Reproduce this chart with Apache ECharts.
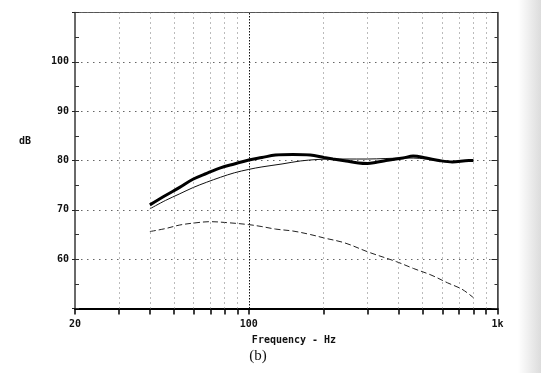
<!DOCTYPE html>
<html>
<head>
<meta charset="utf-8">
<script src="https://cdn.jsdelivr.net/npm/echarts@6/dist/echarts.min.js"></script>
<style>html,body{margin:0;padding:0;background:#fff;}#c{width:541px;height:373px;}</style>
</head>
<body>
<div id="c"></div>
<script>
// ---- data ----
var thickFreq = [40, 46.2, 52.5, 59.6, 67.7, 76.9, 87.4, 100, 112.9, 128, 150.5, 176.6, 200.6, 218, 246, 276, 300, 323, 356, 417, 458, 517, 582, 658, 767, 800];
var thickDb   = [71.0, 72.9, 74.5, 76.2, 77.4, 78.5, 79.3, 80.1, 80.6, 81.1, 81.2, 81.1, 80.6, 80.3, 79.9, 79.5, 79.4, 79.6, 80.0, 80.5, 80.9, 80.5, 80.0, 79.7, 80.0, 80.0];
var thinFreq  = [40, 46.2, 52.5, 59.6, 67.7, 76.9, 87.4, 100, 112.9, 136, 161, 188, 218, 246, 300, 356, 417, 458, 517, 582, 658, 767, 800];
var thinDb    = [70.2, 71.9, 73.2, 74.5, 75.6, 76.6, 77.5, 78.2, 78.7, 79.3, 79.9, 80.2, 80.3, 80.3, 80.3, 80.4, 80.5, 80.5, 80.3, 79.9, 79.8, 80.0, 80.0];
var dashFreq  = [40, 46.2, 52.5, 59.6, 70, 82, 100, 112.9, 128, 150.5, 176.6, 200.6, 243, 304, 392, 460, 540, 630, 720, 800];
var dashDb    = [65.6, 66.2, 66.9, 67.3, 67.6, 67.4, 67.0, 66.6, 66.1, 65.7, 65.0, 64.3, 63.3, 61.4, 59.5, 58.1, 56.8, 55.2, 53.9, 52.2];
var gridFreqs = [30, 40, 50, 60, 70, 80, 90, 200, 300, 400, 500, 600, 700, 800, 900];
var tickFreqs = [20, 30, 40, 50, 60, 70, 80, 90, 100, 200, 300, 400, 500, 600, 700, 800, 900, 1000];
var xLabelVals = [20, 100, 1000];
var yLabelVals = [60, 70, 80, 90, 100];

function pairs(f, v) { return f.map(function (x, i) { return [x, v[i]]; }); }

var labelFont = { fontFamily: 'DejaVu Sans Mono', fontWeight: 'bold', fontSize: 10, color: '#111' };

var chart = echarts.init(document.getElementById('c'), null, { renderer: 'canvas' });
chart.setOption({
  backgroundColor: '#fff',
  animation: false,
  grid: { left: 75, right: 43.5, top: 12.5, bottom: 64.5, show: true, borderColor: '#555', borderWidth: 1, backgroundColor: 'transparent' },
  xAxis: [{
    type: 'log', logBase: 10, min: 20, max: 1000,
    axisLine: { show: true, onZero: false, lineStyle: { color: '#000', width: 2 } },
    axisTick: { show: true, inside: false, length: 6, customValues: tickFreqs, lineStyle: { color: '#000', width: 1.5 } },
    axisLabel: Object.assign({ margin: 11, customValues: xLabelVals, formatter: function (v) { return v >= 1000 ? '1k' : String(Math.round(v)); } }, labelFont),
    splitLine: { show: false },
    minorTick: { show: false }
  }],
  yAxis: [{
    type: 'value', min: 50, max: 110, interval: 10, position: 'left',
    axisLine: { show: true, lineStyle: { color: '#555', width: 1.5 } },
    axisTick: { show: true, inside: false, length: 3, lineStyle: { color: '#222' } },
    axisLabel: Object.assign({ margin: 6, formatter: function (v) { return yLabelVals.indexOf(v) >= 0 ? String(v) : ''; } }, labelFont),
    splitLine: { show: true, lineStyle: { color: '#666', width: 1, type: [1.5, 4.5] } }
  }, {
    type: 'value', min: 50, max: 110, interval: 5, position: 'left',
    axisLine: { show: false }, axisLabel: { show: false }, splitLine: { show: false },
    axisTick: { show: true, inside: true, length: 4, lineStyle: { color: '#333' } }
  }, {
    type: 'value', min: 50, max: 110, interval: 10, position: 'right',
    axisLine: { show: true, lineStyle: { color: '#444', width: 1.5 } }, axisLabel: { show: false }, splitLine: { show: false },
    axisTick: { show: true, inside: true, length: 6, lineStyle: { color: '#222' } }
  }, {
    type: 'value', min: 50, max: 110, interval: 5, position: 'right',
    axisLine: { show: false }, axisLabel: { show: false }, splitLine: { show: false },
    axisTick: { show: true, inside: true, length: 3, lineStyle: { color: '#333' } }
  }],
  series: [{
    type: 'line', data: [], silent: true,
    markLine: {
      silent: true, symbol: 'none', label: { show: false },
      lineStyle: { color: '#777', width: 1, type: [1, 4] },
      data: gridFreqs.map(function (f) { return { xAxis: f }; }).concat([{ xAxis: 100, lineStyle: { color: '#111', width: 1, type: [1.5, 1.5] } }])
    }
  }, {
    name: 'thick', type: 'line', data: pairs(thickFreq, thickDb), smooth: 0.35, showSymbol: false,
    lineStyle: { color: '#000', width: 3 }, z: 5
  }, {
    name: 'thin', type: 'line', data: pairs(thinFreq, thinDb), smooth: 0.35, showSymbol: false,
    lineStyle: { color: '#111', width: 1 }, z: 4
  }, {
    name: 'dash', type: 'line', data: pairs(dashFreq, dashDb), smooth: 0.35, showSymbol: false,
    lineStyle: { color: '#222', width: 1, type: [6, 3] }, z: 4
  }],
  graphic: [
    { type: 'rect', left: 518, top: 0, shape: { width: 23, height: 373 }, silent: true, z: -10,
      style: { fill: new echarts.graphic.LinearGradient(0, 0, 1, 0, [{ offset: 0, color: '#ffffff' }, { offset: 1, color: '#dcdcdc' }]) } },
    { type: 'text', x: 25, y: 141, style: { text: 'dB', fontFamily: 'DejaVu Sans Mono', fontWeight: 'bold', fontSize: 10, fill: '#111', align: 'center', verticalAlign: 'middle' } },
    { type: 'text', x: 294, y: 340, style: { text: 'Frequency - Hz', fontFamily: 'DejaVu Sans Mono', fontWeight: 'bold', fontSize: 10, fill: '#111', align: 'center', verticalAlign: 'middle' } },
    { type: 'text', x: 258, y: 356, style: { text: '(b)', fontFamily: 'Liberation Serif', fontSize: 15, fill: '#111', align: 'center', verticalAlign: 'middle' } }
  ]
});
</script>
</body>
</html>
